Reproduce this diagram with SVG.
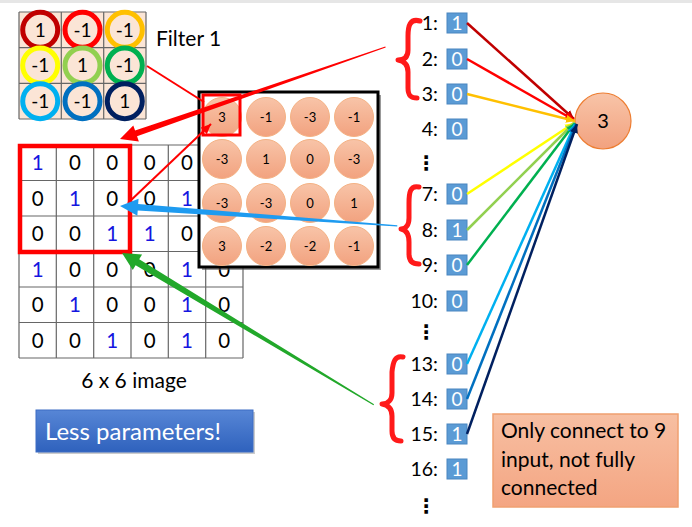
<svg xmlns="http://www.w3.org/2000/svg" width="692" height="527" viewBox="0 0 692 527">
<style>
text{font-family:Lato,"Open Sans","Liberation Sans",sans-serif;fill:#000}
.fd{font-size:19px;text-anchor:middle}
.im{font-size:20.5px;text-anchor:middle}
.im1{fill:#1515E0}
.fm{font-size:13px;text-anchor:middle;fill:#222}
.lbl{font-size:19.5px;text-anchor:end}
.bx{fill:#5B9BD5;stroke:#4A86C0;stroke-width:1}
.bt{font-size:19px;text-anchor:middle;fill:#fff}
.dots{font-family:"DejaVu Sans",sans-serif;font-size:20px;font-weight:bold;text-anchor:middle}
.ring{fill:#FBE5D6;stroke-width:5}
.fc{fill:url(#peach);stroke:#F4B183;stroke-width:1}
.brace{fill:none;stroke:#FF1A1A;stroke-width:5;stroke-linecap:round;stroke-linejoin:round}
.gl{stroke:#666;stroke-width:1.2}
.cn{stroke-width:2.5;fill:none}
.nt{font-size:21px}
</style>
<defs>
<linearGradient id="peach" x1="0" y1="0" x2="0" y2="1"><stop offset="0" stop-color="#F8C4A8"/><stop offset="1" stop-color="#F2A27F"/></linearGradient>
<linearGradient id="note" x1="0" y1="0" x2="0" y2="1"><stop offset="0" stop-color="#F7BFA2"/><stop offset="1" stop-color="#F4A582"/></linearGradient>
<linearGradient id="blue" x1="0" y1="0" x2="0" y2="1"><stop offset="0" stop-color="#5786D6"/><stop offset="1" stop-color="#2F62BD"/></linearGradient>
<marker id="m1" markerUnits="userSpaceOnUse" markerWidth="9" markerHeight="8" refX="9" refY="4" orient="auto"><path d="M0,0 L9,4 L0,8 z" fill="#C00000"/></marker>
<marker id="m2" markerUnits="userSpaceOnUse" markerWidth="9" markerHeight="8" refX="9" refY="4" orient="auto"><path d="M0,0 L9,4 L0,8 z" fill="#FF0000"/></marker>
<marker id="m3" markerUnits="userSpaceOnUse" markerWidth="9" markerHeight="8" refX="9" refY="4" orient="auto"><path d="M0,0 L9,4 L0,8 z" fill="#FFC000"/></marker>
<marker id="m7" markerUnits="userSpaceOnUse" markerWidth="9" markerHeight="8" refX="9" refY="4" orient="auto"><path d="M0,0 L9,4 L0,8 z" fill="#FFFF00"/></marker>
<marker id="m8" markerUnits="userSpaceOnUse" markerWidth="9" markerHeight="8" refX="9" refY="4" orient="auto"><path d="M0,0 L9,4 L0,8 z" fill="#92D050"/></marker>
<marker id="m9" markerUnits="userSpaceOnUse" markerWidth="9" markerHeight="8" refX="9" refY="4" orient="auto"><path d="M0,0 L9,4 L0,8 z" fill="#00B050"/></marker>
<marker id="m13" markerUnits="userSpaceOnUse" markerWidth="9" markerHeight="8" refX="9" refY="4" orient="auto"><path d="M0,0 L9,4 L0,8 z" fill="#00B0F0"/></marker>
<marker id="m14" markerUnits="userSpaceOnUse" markerWidth="9" markerHeight="8" refX="9" refY="4" orient="auto"><path d="M0,0 L9,4 L0,8 z" fill="#0070C0"/></marker>
<marker id="m15" markerUnits="userSpaceOnUse" markerWidth="9" markerHeight="8" refX="9" refY="4" orient="auto"><path d="M0,0 L9,4 L0,8 z" fill="#002060"/></marker>
<marker id="mr" markerUnits="userSpaceOnUse" markerWidth="10" markerHeight="9" refX="10" refY="4.5" orient="auto"><path d="M0,0 L10,4.5 L0,9 z" fill="#FF0000"/></marker>
</defs>
<rect x="0" y="0" width="692" height="527" fill="#fff"/>
<rect x="0" y="0" width="692" height="3" fill="#E6E6E6"/>

<!-- Filter -->
<g id="filter">
<rect x="19" y="12" width="127" height="107" fill="#FBE5D6"/>
<path class="gl" d="M19,12H146M19,47.7H146M19,83.3H146M19,119H146M19,12V119M61.3,12V119M103.7,12V119M146,12V119" stroke="#333"/>
<circle class="ring" cx="40.2" cy="29.8" r="17.5" stroke="#C00000"/>
<circle class="ring" cx="82.5" cy="29.8" r="17.5" stroke="#FF0000"/>
<circle class="ring" cx="124.8" cy="29.8" r="17.5" stroke="#FFC000"/>
<circle class="ring" cx="40.2" cy="65.5" r="17.5" stroke="#FFFF00"/>
<circle class="ring" cx="82.5" cy="65.5" r="17.5" stroke="#92D050"/>
<circle class="ring" cx="124.8" cy="65.5" r="17.5" stroke="#00B050"/>
<circle class="ring" cx="40.2" cy="101.2" r="17.5" stroke="#00B0F0"/>
<circle class="ring" cx="82.5" cy="101.2" r="17.5" stroke="#0070C0"/>
<circle class="ring" cx="124.8" cy="101.2" r="17.5" stroke="#002060"/>
<text class="fd" x="40.2" y="36.5">1</text><text class="fd" x="82.5" y="36.5">-1</text><text class="fd" x="124.8" y="36.5">-1</text>
<text class="fd" x="40.2" y="72.2">-1</text><text class="fd" x="82.5" y="72.2">1</text><text class="fd" x="124.8" y="72.2">-1</text>
<text class="fd" x="40.2" y="107.9">-1</text><text class="fd" x="82.5" y="107.9">-1</text><text class="fd" x="124.8" y="107.9">1</text>
<text x="156" y="46" style="font-size:21px">Filter 1</text>
</g>

<!-- Image -->
<g id="image">
<path class="gl" d="M19,145H243M19,180.5H243M19,216H243M19,251.5H243M19,287H243M19,322.5H243M19,358H243M19,145V358M56.3,145V358M93.7,145V358M131,145V358M168.3,145V358M205.7,145V358M243,145V358"/>
<g class="im">
<text x="37.7" y="170" class="im1">1</text><text x="75" y="170">0</text><text x="112.3" y="170">0</text><text x="149.7" y="170">0</text><text x="187" y="170">0</text>
<text x="37.7" y="205.5">0</text><text x="75" y="205.5" class="im1">1</text><text x="112.3" y="205.5">0</text><text x="149.7" y="205.5">0</text><text x="187" y="205.5" class="im1">1</text>
<text x="37.7" y="241">0</text><text x="75" y="241">0</text><text x="112.3" y="241" class="im1">1</text><text x="149.7" y="241" class="im1">1</text><text x="187" y="241">0</text>
<text x="37.7" y="276.5" class="im1">1</text><text x="75" y="276.5">0</text><text x="112.3" y="276.5">0</text><text x="149.7" y="276.5">0</text><text x="187" y="276.5" class="im1">1</text><text x="224.3" y="276.5">0</text>
<text x="37.7" y="312">0</text><text x="75" y="312" class="im1">1</text><text x="112.3" y="312">0</text><text x="149.7" y="312">0</text><text x="187" y="312" class="im1">1</text><text x="224.3" y="312">0</text>
<text x="37.7" y="347.5">0</text><text x="75" y="347.5">0</text><text x="112.3" y="347.5" class="im1">1</text><text x="149.7" y="347.5">0</text><text x="187" y="347.5" class="im1">1</text><text x="224.3" y="347.5">0</text>
</g>
<rect x="20" y="146" width="110" height="106" fill="none" stroke="#FF0000" stroke-width="4.5"/>
<text x="134" y="388" style="font-size:21px;text-anchor:middle">6 x 6 image</text>
</g>

<!-- Feature map -->
<g id="featuremap">
<rect x="202" y="95" width="179" height="175" fill="#555" opacity="0.6"/>
<rect x="199" y="92" width="179" height="175" fill="#fff" stroke="#000" stroke-width="3"/>
<g>
<circle class="fc" cx="222" cy="117" r="19.5"/><circle class="fc" cx="266" cy="117" r="19.5"/><circle class="fc" cx="310" cy="117" r="19.5"/><circle class="fc" cx="354" cy="117" r="19.5"/>
<circle class="fc" cx="222" cy="159" r="19.5"/><circle class="fc" cx="266" cy="159" r="19.5"/><circle class="fc" cx="310" cy="159" r="19.5"/><circle class="fc" cx="354" cy="159" r="19.5"/>
<circle class="fc" cx="222" cy="203" r="19.5"/><circle class="fc" cx="266" cy="203" r="19.5"/><circle class="fc" cx="310" cy="203" r="19.5"/><circle class="fc" cx="354" cy="203" r="19.5"/>
<circle class="fc" cx="222" cy="246" r="19.5"/><circle class="fc" cx="266" cy="246" r="19.5"/><circle class="fc" cx="310" cy="246" r="19.5"/><circle class="fc" cx="354" cy="246" r="19.5"/>
</g>
<g class="fm">
<text x="222" y="121.5">3</text><text x="266" y="121.5">-1</text><text x="310" y="121.5">-3</text><text x="354" y="121.5">-1</text>
<text x="222" y="163.5">-3</text><text x="266" y="163.5">1</text><text x="310" y="163.5">0</text><text x="354" y="163.5">-3</text>
<text x="222" y="207.5">-3</text><text x="266" y="207.5">-3</text><text x="310" y="207.5">0</text><text x="354" y="207.5">1</text>
<text x="222" y="250.5">3</text><text x="266" y="250.5">-2</text><text x="310" y="250.5">-2</text><text x="354" y="250.5">-1</text>
</g>
<rect x="203" y="95" width="37" height="40" fill="none" stroke="#FF0000" stroke-width="3"/>
</g>

<!-- Inputs -->
<g id="inputs">
<text class="lbl" x="438" y="30">1:</text><rect class="bx" x="447" y="13" width="20" height="20"/><text class="bt" x="457" y="30">1</text>
<text class="lbl" x="438" y="66">2:</text><rect class="bx" x="447" y="49" width="20" height="20"/><text class="bt" x="457" y="66">0</text>
<text class="lbl" x="438" y="101">3:</text><rect class="bx" x="447" y="84" width="20" height="20"/><text class="bt" x="457" y="101">0</text>
<text class="lbl" x="438" y="136">4:</text><rect class="bx" x="447" y="119" width="20" height="20"/><text class="bt" x="457" y="136">0</text>
<text class="dots" x="426" y="170">⋮</text>
<text class="lbl" x="438" y="201">7:</text><rect class="bx" x="447" y="184" width="20" height="20"/><text class="bt" x="457" y="201">0</text>
<text class="lbl" x="438" y="237">8:</text><rect class="bx" x="447" y="220" width="20" height="20"/><text class="bt" x="457" y="237">1</text>
<text class="lbl" x="438" y="272">9:</text><rect class="bx" x="447" y="255" width="20" height="20"/><text class="bt" x="457" y="272">0</text>
<text class="lbl" x="438" y="308">10:</text><rect class="bx" x="447" y="291" width="20" height="20"/><text class="bt" x="457" y="308">0</text>
<text class="dots" x="426" y="339">⋮</text>
<text class="lbl" x="438" y="371">13:</text><rect class="bx" x="447" y="354" width="20" height="20"/><text class="bt" x="457" y="371">0</text>
<text class="lbl" x="438" y="406">14:</text><rect class="bx" x="447" y="389" width="20" height="20"/><text class="bt" x="457" y="406">0</text>
<text class="lbl" x="438" y="441">15:</text><rect class="bx" x="447" y="424" width="20" height="20"/><text class="bt" x="457" y="441">1</text>
<text class="lbl" x="438" y="476">16:</text><rect class="bx" x="447" y="459" width="20" height="20"/><text class="bt" x="457" y="476">1</text>
<text class="dots" x="426" y="513">⋮</text>
</g>

<!-- Braces -->
<g id="braces">
<path class="brace" d="M420,21 C410,18 408,26 408,36 L408,50 C408,57 404,60 398,60 C404,61 408,64 408,72 L408,88 C408,96 411,98 417,98"/>
<path class="brace" d="M419,187 C410,185 409,193 409,203 L409,218 C409,225 406,229 401,229 C406,230 409,234 409,242 L409,254 C409,261 413,264 419,264"/>
<path class="brace" d="M403,357 C395,355 393,362 392,372 L392,393 C392,400 388,404 382,404 C388,405 392,409 392,416 L392,431 C392,438 395,441 401,441"/>
</g>

<!-- Output neuron -->
<g id="neuron">
<circle cx="603" cy="121" r="28" fill="url(#peach)" stroke="#ED7D31" stroke-width="1.2"/>
<text x="603" y="128" style="font-size:20px;text-anchor:middle">3</text>
</g>

<!-- Connectors -->
<g id="connectors">
<line class="cn" x1="467" y1="23" x2="574" y2="119" stroke="#C00000" marker-end="url(#m1)"/>
<line class="cn" x1="467" y1="59" x2="574" y2="120" stroke="#FF0000" marker-end="url(#m2)"/>
<line class="cn" x1="467" y1="94" x2="575" y2="121" stroke="#FFC000" marker-end="url(#m3)"/>
<line class="cn" x1="467" y1="194" x2="574" y2="123" stroke="#FFFF00" marker-end="url(#m7)"/>
<line class="cn" x1="467" y1="230" x2="574" y2="123" stroke="#92D050" marker-end="url(#m8)"/>
<line class="cn" x1="467" y1="265" x2="575" y2="123" stroke="#00B050" marker-end="url(#m9)"/>
<line class="cn" x1="467" y1="364" x2="575" y2="124" stroke="#00B0F0" marker-end="url(#m13)"/>
<line class="cn" x1="467" y1="399" x2="576" y2="124" stroke="#0070C0" marker-end="url(#m14)"/>
<line class="cn" x1="467" y1="434" x2="577" y2="124" stroke="#002060" marker-end="url(#m15)"/>
<line x1="147" y1="66" x2="204" y2="102" stroke="#FF0000" stroke-width="2"/>
<line x1="128" y1="203" x2="211" y2="124" stroke="#FF0000" stroke-width="2" marker-end="url(#mr)"/>
<polygon transform="translate(120,139) rotate(160.9)" points="-281,-0.6 -17,-3 -17,-8.5 0,0 -17,8.5 -17,3 -281,0.6" fill="#FF0000"/>
<polygon transform="translate(120,206) rotate(-175.9)" points="-278,-0.6 -18,-3.2 -18,-8.5 0,0 -18,8.5 -18,3.2 -278,0.6" fill="#1E9BF0"/>
<polygon transform="translate(122,253) rotate(-148.9)" points="-294,-0.6 -18,-3.5 -18,-9 0,0 -18,9 -18,3.5 -294,0.6" fill="#22A82A"/>
</g>

<!-- Less parameters -->
<g id="less">
<rect x="38" y="412" width="217" height="42" fill="#999" opacity="0.5"/>
<rect x="36" y="410" width="217" height="42" fill="url(#blue)" stroke="#3C6CC4" stroke-width="1"/>
<text x="45" y="440" style="font-size:24px;fill:#fff">Less parameters!</text>
</g>

<!-- Note -->
<g id="note">
<rect x="493" y="414" width="185" height="93" fill="url(#note)" stroke="#F0A070" stroke-width="1.5"/>
<text class="nt" x="501" y="438">Only connect to 9</text>
<text class="nt" x="501" y="467">input, not fully</text>
<text class="nt" x="501" y="495">connected</text>
</g>
</svg>
